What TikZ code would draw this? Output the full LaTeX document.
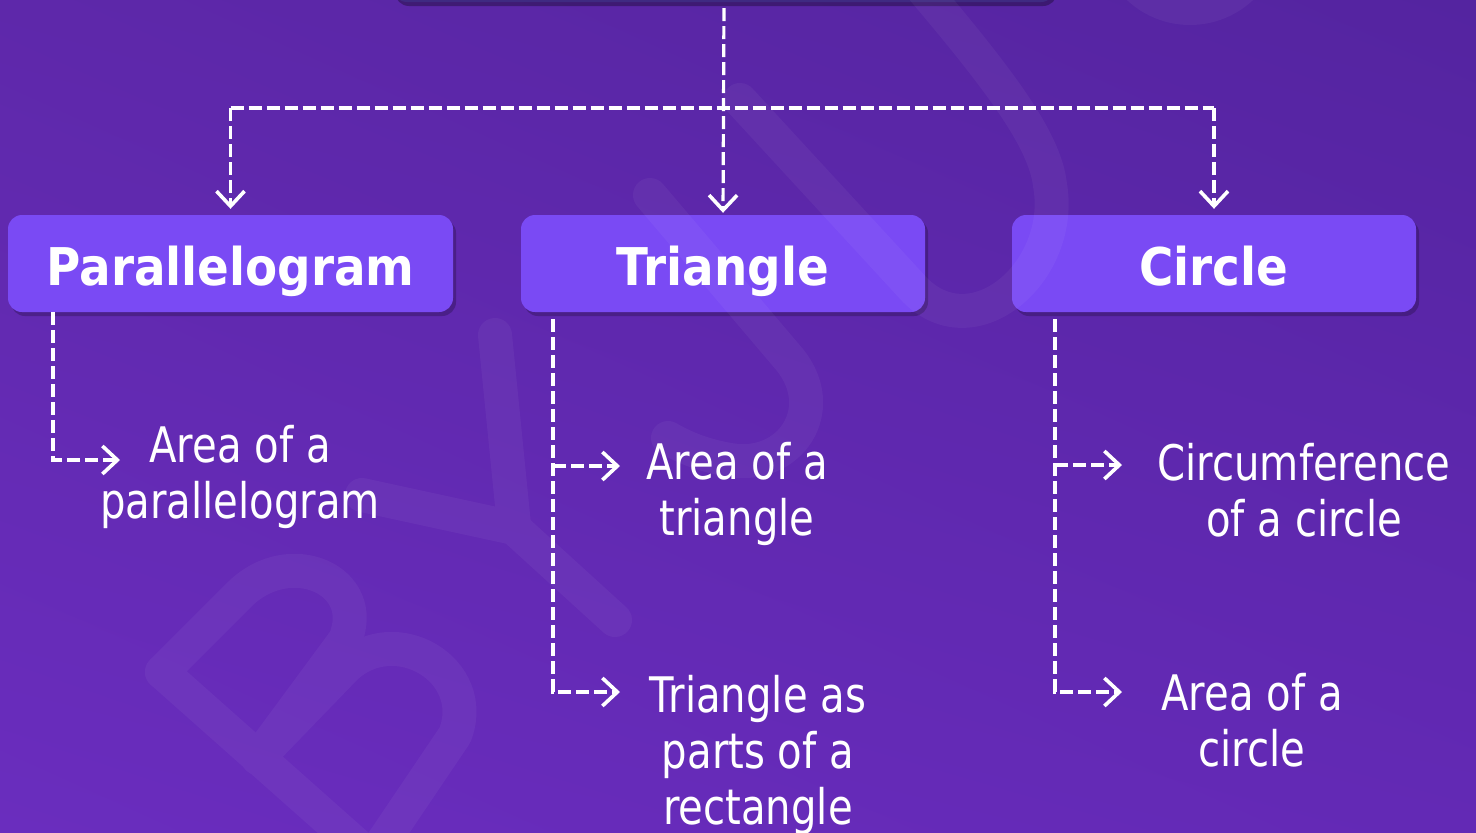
\documentclass[tikz,border=0pt]{standalone}
\usepackage{fontspec}
\newfontfamily\labfont{DejaVu Sans}[FakeStretch=0.82]
\newfontfamily\boxfont{DejaVu Sans}[FakeStretch=0.9]
\usetikzlibrary{arrows.meta,shadows,shadings}
\definecolor{bgUL}{HTML}{5E28AA}
\definecolor{bgUR}{HTML}{5424A0}
\definecolor{bgLL}{HTML}{6A2DBE}
\definecolor{bgLR}{HTML}{6329B5}
\definecolor{boxfill}{HTML}{7A4AF4}
\definecolor{topfill}{HTML}{3F2A82}
\begin{document}
\begin{tikzpicture}[x=1pt,y=-1pt,
  catbox/.style={fill=boxfill, rounded corners=14pt, minimum width=#1,
    minimum height=97pt, inner sep=0pt, text=white,
    font=\boxfont\bfseries\fontsize{52}{60}\selectfont,
    text height=44pt, text depth=1pt,
    drop shadow={shadow xshift=3pt, shadow yshift=-4pt, opacity=0.22, fill=black}},
  topbox/.style={fill=topfill, rounded corners=14pt, minimum width=662pt,
    minimum height=90pt, inner sep=0pt,
    drop shadow={shadow xshift=2pt, shadow yshift=-4pt, opacity=0.3, fill=black}},
  lab/.style={text=white, align=center, inner sep=0pt, anchor=north,
    font=\labfont\fontsize{49}{56}\selectfont},
  conn/.style={draw=white, line width=3.2pt, dash pattern=on 13pt off 5pt},
  arr/.style={conn, -{Straight Barb[length=15pt,width=28pt,line width=3.6pt]}},
  wm/.style={draw=white, line width=34pt, line cap=round, line join=round}
]
\useasboundingbox (0,0) rectangle (1476,833);
\shade[upper left=bgUL, upper right=bgUR, lower left=bgLL, lower right=bgLR]
  (0,0) rectangle (1476,833);

% boxes
\node[topbox] (top) at (724,-43) {};
\node[catbox=445pt] (par) at (230.5,263.5) {Parallelogram};
\node[catbox=404pt] (tri) at (723,263.5) {Triangle};
\node[catbox=404pt] (cir) at (1214,263.5) {Circle};

% watermark
\begin{scope}[transparency group, opacity=0.045]
  \draw[wm] (162,672) -- (385,870);
  \draw[wm] (162,672) -- (240,594) .. controls (290,545) and (370,580) .. (345,640) -- (258,758);
  \draw[wm] (258,758) -- (345,668) .. controls (395,620) and (480,670) .. (455,735) -- (372,858);
  \draw[wm] (495,335) -- (514,525);
  \draw[wm] (362,495) -- (514,528) -- (615,620);
  \draw[wm] (650,195) -- (790,360) .. controls (830,410) and (790,470) .. (730,460)
     .. controls (700,455) and (680,445) .. (668,438);
  \draw[wm] (740,100) -- (915,290) .. controls (975,350) and (1065,270) .. (1050,185)
     .. controls (1045,140) and (1000,80) .. (915,-20);
  \draw[wm] (1130,-22) .. controls (1160,18) and (1220,18) .. (1250,-22);
\end{scope}

% connectors from top
\coordinate (bus) at (723,108);
\draw[arr, shorten <=6pt, shorten >=2pt] (top.south) -- (tri.north);
\draw[conn] (par.north |- bus) -- (cir.north |- bus);
\draw[arr, shorten >=6pt] (par.north |- bus) -- (par.north);
\draw[arr, shorten >=6pt] (cir.north |- bus) -- (cir.north);

% labels
\node[lab] (pl) at (240,425) {Area of a\\parallelogram};
\node[lab] (tl1) at (737,442) {Area of a\\triangle};
\node[lab] (tl2) at (758,675) {Triangle as\\parts of a\\rectangle};
\node[lab] (cl1) at (1304,443) {Circumference\\of a circle};
\node[lab] (cl2) at (1252,673) {Area of a\\circle};

% branch connectors
\coordinate (pv) at (53,460);
\coordinate (pt) at (120,460);
\draw[arr] (pv |- par.south) -- (pv) -- (pt);

\coordinate (tv1) at (553,466);
\coordinate (tt1) at (620,466);
\coordinate (tv2) at (553,692);
\coordinate (tt2) at (620,692);
\draw[arr, shorten <=7pt] (tv2 |- tri.south) -- (tv2) -- (tt2);
\draw[arr] (tv1) -- (tt1);

\coordinate (cv1) at (1055,465);
\coordinate (ct1) at (1122,465);
\coordinate (cv2) at (1055,692);
\coordinate (ct2) at (1122,692);
\draw[arr, shorten <=7pt] (cv2 |- cir.south) -- (cv2) -- (ct2);
\draw[arr] (cv1) -- (ct1);
\end{tikzpicture}
\end{document}
